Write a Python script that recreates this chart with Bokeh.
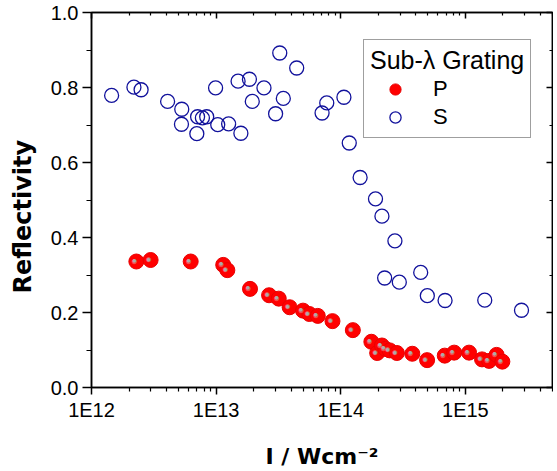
from bokeh.plotting import figure
from bokeh.models import (LogAxis, LinearAxis, FixedTicker, SingleIntervalTicker,
                          CustomJSTickFormatter, PrintfTickFormatter, Legend,
                          LegendItem, Range1d, ColumnDataSource)
from bokeh.embed import file_html
from bokeh.resources import INLINE

# ---- data ----
s_intensity = [1.45e12, 2.19e12, 2.5e12, 4.08e12, 5.3e12, 5.27e12, 7.0e12, 7.1e12, 7.76e12,
               8.4e12, 9.9e12, 1.03e13, 1.26e13, 1.50e13, 1.58e13, 1.85e13, 1.95e13, 2.42e13,
               3.0e13, 3.24e13, 3.46e13, 4.43e13, 7.08e13, 7.72e13, 1.06e14, 1.17e14, 1.43e14,
               1.90e14, 2.14e14, 2.72e14, 2.25e14, 2.95e14, 4.38e14, 4.95e14, 6.87e14, 1.43e15,
               2.82e15]
s_reflectivity = [0.779, 0.801, 0.794, 0.763, 0.742, 0.702, 0.677, 0.722, 0.719,
                  0.722, 0.799, 0.701, 0.703, 0.817, 0.678, 0.822, 0.763, 0.799,
                  0.730, 0.892, 0.771, 0.852, 0.732, 0.759, 0.774, 0.652, 0.560,
                  0.503, 0.457, 0.391, 0.292, 0.281, 0.307, 0.245, 0.232, 0.233,
                  0.206]
p_intensity = [2.29e12, 2.98e12, 6.25e12, 1.14e13, 1.23e13, 1.87e13, 2.66e13, 3.18e13, 3.89e13,
               4.98e13, 5.6e13, 6.54e13, 8.58e13, 1.25e14, 1.76e14, 1.96e14, 2.14e14, 2.28e14,
               2.47e14, 2.82e14, 3.75e14, 4.93e14, 6.83e14, 8.13e14, 1.07e15, 1.36e15, 1.55e15,
               1.78e15, 1.98e15]
p_reflectivity = [0.336, 0.340, 0.336, 0.327, 0.313, 0.263, 0.246, 0.237, 0.214,
                  0.205, 0.196, 0.191, 0.177, 0.153, 0.122, 0.092, 0.112, 0.103,
                  0.099, 0.092, 0.090, 0.073, 0.085, 0.093, 0.093, 0.075, 0.071,
                  0.087, 0.069]

x_major_ticks = [1e12, 1e13, 1e14, 1e15]
y_tick_step = 0.2

series_title = "Sub-λ Grating"
p_label = "P"
s_label = "S"
x_title = "I / Wcm\u207b\u00b2"
y_title = "Reflectivity\u00a0\u00a0\u00a0\u00a0"

# ---- figure ----
p = figure(frame_width=461, frame_height=375, x_axis_type="log",
           x_range=Range1d(1e12, 5e15), y_range=Range1d(0, 1.0),
           output_backend="svg", toolbar_location=None,
           min_border_left=91, min_border_right=1, min_border_top=12, min_border_bottom=81)
p.grid.visible = False
p.outline_line_color = "black"
p.outline_line_width = 1.5
p.background_fill_color = "white"
p.border_fill_color = "white"

minor_x = [m * t for t in x_major_ticks for m in range(2, 10)]
xticker = FixedTicker(ticks=x_major_ticks, minor_ticks=minor_x)
yticker = SingleIntervalTicker(interval=y_tick_step, num_minor_ticks=2)

xfmt = CustomJSTickFormatter(code="return '1E' + Math.round(Math.log10(tick));")
blank = CustomJSTickFormatter(code="return '';")

xa = p.xaxis[0]
xa.ticker = xticker
xa.formatter = xfmt
xa.major_tick_out = 7
xa.major_tick_in = 0
xa.minor_tick_out = 4
xa.minor_tick_in = 0
xa.major_label_standoff = 4
xa.axis_label = x_title
xa.axis_label_standoff = 20
ya = p.yaxis[0]
ya.ticker = yticker
ya.formatter = PrintfTickFormatter(format="%.1f")
ya.major_tick_out = 9
ya.major_tick_in = 0
ya.minor_tick_out = 5
ya.minor_tick_in = 0
ya.major_label_standoff = 4
ya.axis_label = y_title
ya.axis_label_standoff = 11
for ax in (xa, ya):
    ax.axis_line_width = 1.5
    ax.major_tick_line_width = 1.5
    ax.minor_tick_line_width = 1.2
    ax.major_label_text_font = "Liberation Sans"
    ax.major_label_text_font_size = "20px"
    ax.major_label_text_color = "black"
    ax.axis_label_text_font = "DejaVu Sans"
    ax.axis_label_text_font_style = "bold"
    ax.axis_label_text_font_size = "22px"
    ax.axis_label_text_color = "black"
ya.axis_label_text_font_size = "24px"

top = LogAxis(ticker=xticker, formatter=blank)
right = LinearAxis(ticker=yticker, formatter=blank)
for ax in (top, right):
    ax.major_tick_out = 0
    ax.minor_tick_out = 0
    ax.major_tick_in = 6
    ax.minor_tick_in = 3
    ax.axis_line_width = 1.5
    ax.major_tick_line_width = 1.5
    ax.minor_tick_line_width = 1.2
    ax.major_label_standoff = 0
p.add_layout(top, "above")
p.add_layout(right, "right")

src_s = ColumnDataSource(dict(x=s_intensity, y=s_reflectivity))
src_p = ColumnDataSource(dict(x=p_intensity, y=p_reflectivity, t=["●"] * len(p_intensity)))

rs = p.scatter("x", "y", source=src_s, marker="circle", size=14, fill_color=None,
               line_color="#12129c", line_width=1.3)
rp = p.scatter("x", "y", source=src_p, marker="circle", size=15, fill_color="#ff0000",
               line_color="#e80000", line_width=1)
p.text("x", "y", text="t", source=src_p, x_offset=-2, y_offset=-1,
       text_font_size="12px", text_color="#f07070", text_alpha=0.7,
       text_align="center", text_baseline="middle")
p.text("x", "y", text="t", source=src_p, x_offset=-2, y_offset=-1,
       text_font_size="8px", text_color="#aaaaaa", text_alpha=1.0,
       text_align="center", text_baseline="middle")

legend = Legend(items=[LegendItem(label=p_label, renderers=[rp]),
                       LegendItem(label=s_label, renderers=[rs])],
                location=(272, 249), title=series_title,
                title_text_font="Liberation Sans", title_text_font_size="25px",
                title_text_font_style="normal", title_text_color="black",
                label_text_font="Liberation Sans", label_text_font_size="22px",
                label_text_color="black",
                glyph_width=50, glyph_height=28, label_height=28, label_standoff=13,
                padding=6, spacing=0, margin=0, title_standoff=0,
                border_line_color="#404040", border_line_width=1.5,
                background_fill_color="white", background_fill_alpha=1.0)
p.add_layout(legend)

open("out.html", "w").write(file_html(p, INLINE))
